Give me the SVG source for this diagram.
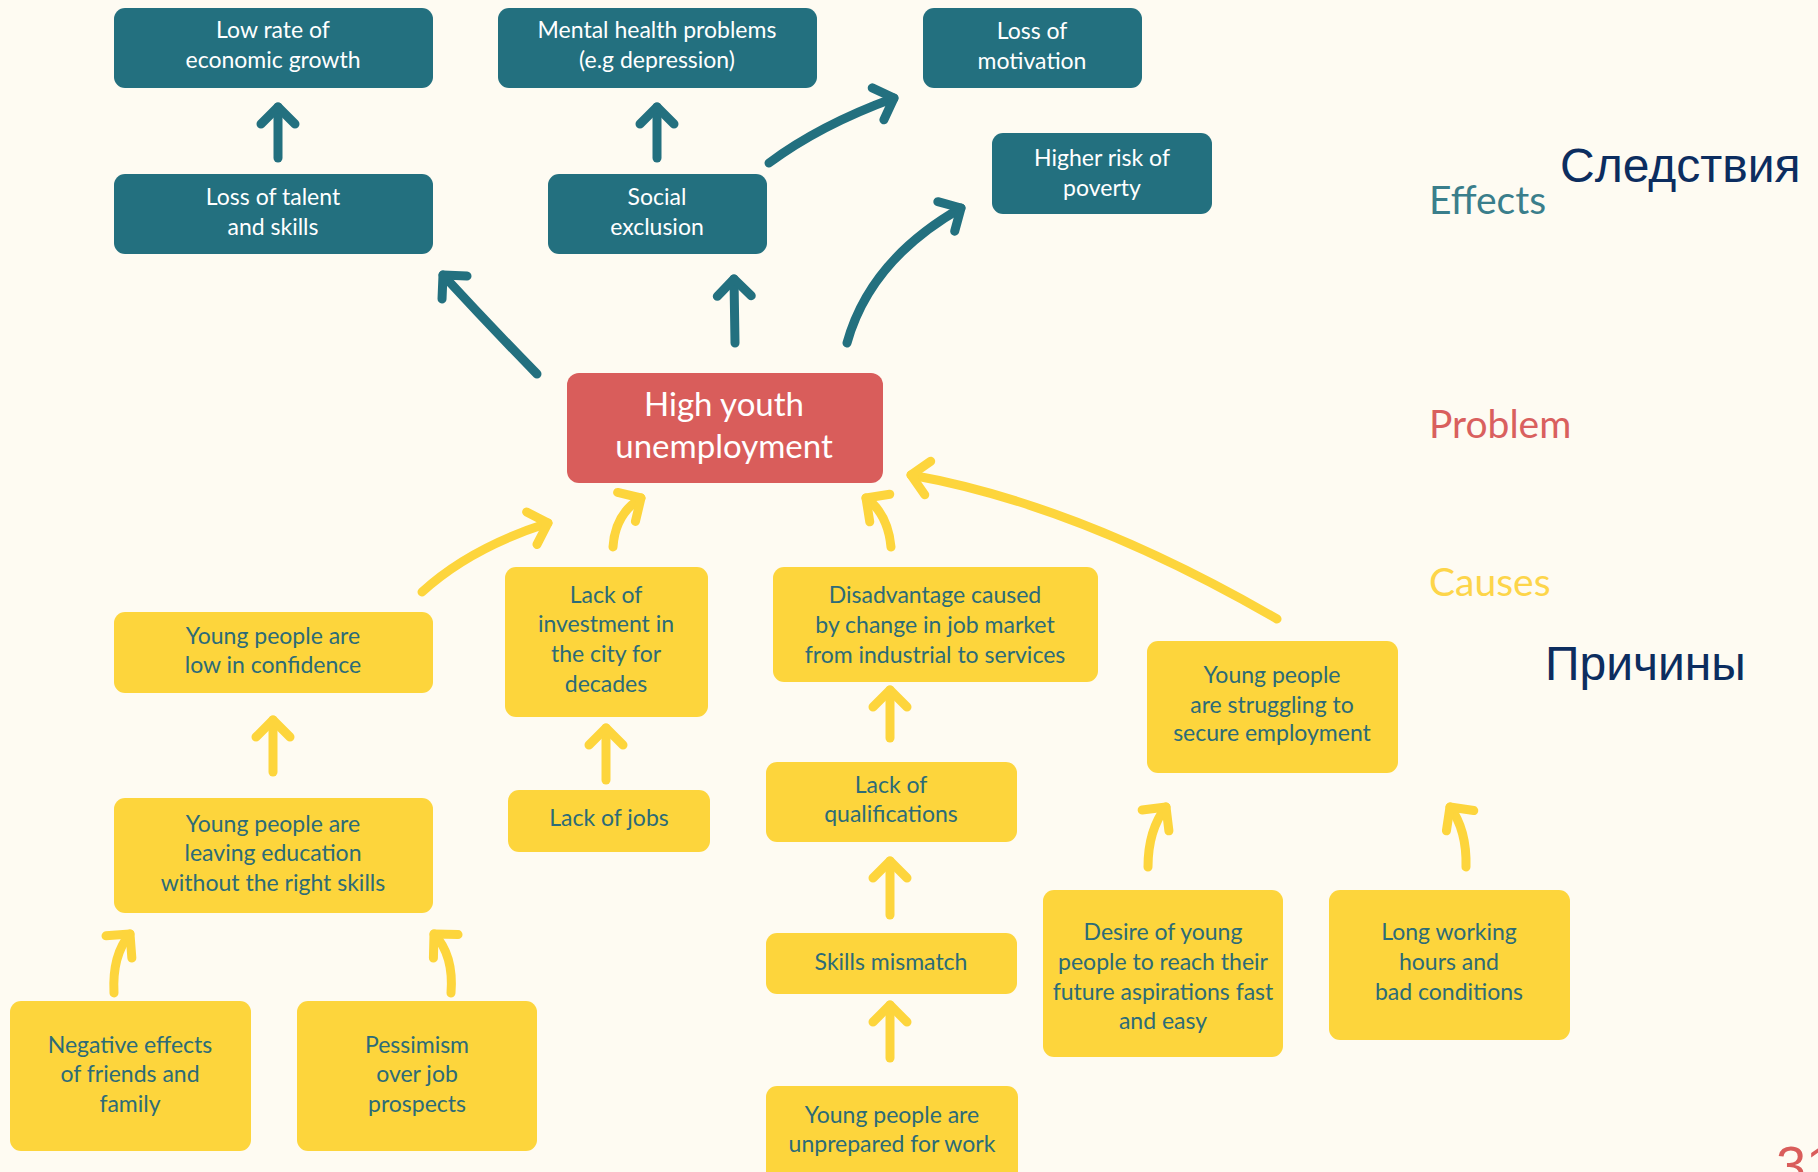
<svg xmlns="http://www.w3.org/2000/svg" width="1818" height="1172" viewBox="0 0 1818 1172">
  <style>
    .bg { fill: #fefbf2; }
    .eff rect { fill: #23707f; }
    .eff text { fill: #ffffff; }
    .cause rect { fill: #fdd53c; }
    .cause text { fill: #2c6b78; }
    .prob rect { fill: #d95d5b; }
    .prob text { fill: #ffffff; font-size: 33px; }
    text { font-family: "Lato", "Liberation Sans", sans-serif; font-size: 23px; text-anchor: middle; }
    .lbl { text-anchor: start; font-size: 39px; }
    .ru { font-family: "Liberation Sans", "Noto Sans", sans-serif; text-anchor: start; fill: #0c2d5f; font-size: 48px; }
    .t { fill: none; stroke: #23707f; stroke-width: 9; stroke-linecap: round; stroke-linejoin: round; }
    .y { fill: none; stroke: #fdd53c; stroke-width: 9; stroke-linecap: round; stroke-linejoin: round; }
    .tm { marker-end: url(#headT); }
    .ym { marker-end: url(#headY); }
  </style>
  <defs>
    <marker id="headT" viewBox="-30 -30 40 60" markerWidth="40" markerHeight="60" refX="0" refY="0" orient="auto" markerUnits="userSpaceOnUse">
      <path d="M-17,-17 L0,0 L-17,17" fill="none" stroke="#23707f" stroke-width="9" stroke-linecap="round" stroke-linejoin="round"/>
    </marker>
    <marker id="headY" viewBox="-30 -30 40 60" markerWidth="40" markerHeight="60" refX="0" refY="0" orient="auto" markerUnits="userSpaceOnUse">
      <path d="M-17,-17 L0,0 L-17,17" fill="none" stroke="#fdd53c" stroke-width="9" stroke-linecap="round" stroke-linejoin="round"/>
    </marker>
  </defs>

  <rect class="bg" x="0" y="0" width="1818" height="1172"/>

  <!-- connectors -->
  <g id="connectors">
    <!-- effects (teal) -->
    <path class="t tm" d="M537,374 Q490,326 443,275"/>
    <path class="t tm" d="M735,343 L734,279"/>
    <path class="t tm" d="M847,343 Q870,260 961,208"/>
    <path class="t tm" d="M769,163 Q820,125 894,98"/>
    <path class="t tm" d="M278,158 L278,107"/>
    <path class="t tm" d="M657,158 L657,107"/>
    <!-- causes (yellow) -->
    <path class="y ym" d="M422,592 Q470,548 548,523"/>
    <path class="y ym" d="M613,547 Q615,514 641,498"/>
    <path class="y ym" d="M891,547 Q888,514 866,498"/>
    <path class="y ym" d="M1277,619 Q1080,505 911,475"/>
    <path class="y ym" d="M273,772 L273,720"/>
    <path class="y ym" d="M606,780 L606,728"/>
    <path class="y ym" d="M890,738 L890,690"/>
    <path class="y ym" d="M890,915 L890,861"/>
    <path class="y ym" d="M890,1058 L890,1005"/>
    <path class="y ym" d="M114,993 Q112,955 130,934"/>
    <path class="y ym" d="M451,993 Q454,955 434,934"/>
    <path class="y ym" d="M1148,867 Q1148,830 1166,807"/>
    <path class="y ym" d="M1466,867 Q1467,830 1450,807"/>
  </g>

  <!-- effects -->
  <g id="low-growth" class="eff">
    <rect x="114" y="8" width="319" height="80" rx="11"/>
    <text x="273" y="38">Low rate of</text>
    <text x="273" y="68">economic growth</text>
  </g>
  <g id="mental-health" class="eff">
    <rect x="498" y="8" width="319" height="80" rx="11"/>
    <text x="657" y="38">Mental health problems</text>
    <text x="657" y="68">(e.g depression)</text>
  </g>
  <g id="loss-motivation" class="eff">
    <rect x="923" y="8" width="219" height="80" rx="11"/>
    <text x="1032" y="39">Loss of</text>
    <text x="1032" y="69">motivation</text>
  </g>
  <g id="loss-talent" class="eff">
    <rect x="114" y="174" width="319" height="80" rx="11"/>
    <text x="273" y="205">Loss of talent</text>
    <text x="273" y="235">and skills</text>
  </g>
  <g id="social-exclusion" class="eff">
    <rect x="548" y="174" width="219" height="80" rx="11"/>
    <text x="657" y="205">Social</text>
    <text x="657" y="235">exclusion</text>
  </g>
  <g id="poverty" class="eff">
    <rect x="992" y="133" width="220" height="81" rx="11"/>
    <text x="1102" y="166">Higher risk of</text>
    <text x="1102" y="196">poverty</text>
  </g>

  <!-- problem -->
  <g id="problem" class="prob">
    <rect x="567" y="373" width="316" height="110" rx="12"/>
    <text x="724" y="416">High youth</text>
    <text x="724" y="458">unemployment</text>
  </g>

  <!-- causes -->
  <g id="low-confidence" class="cause">
    <rect x="114" y="612" width="319" height="81" rx="11"/>
    <text x="273" y="644">Young people are</text>
    <text x="273" y="673">low in confidence</text>
  </g>
  <g id="lack-investment" class="cause">
    <rect x="505" y="567" width="203" height="150" rx="11"/>
    <text x="606" y="603">Lack of</text>
    <text x="606" y="632">investment in</text>
    <text x="606" y="662">the city for</text>
    <text x="606" y="692">decades</text>
  </g>
  <g id="job-market" class="cause">
    <rect x="773" y="567" width="325" height="115" rx="11"/>
    <text x="935" y="603">Disadvantage caused</text>
    <text x="935" y="633">by change in job market</text>
    <text x="935" y="663">from  industrial to services</text>
  </g>
  <g id="struggling" class="cause">
    <rect x="1147" y="641" width="251" height="132" rx="11"/>
    <text x="1272" y="683">Young people</text>
    <text x="1272" y="713">are struggling to</text>
    <text x="1272" y="741">secure employment</text>
  </g>
  <g id="leaving-education" class="cause">
    <rect x="114" y="798" width="319" height="115" rx="11"/>
    <text x="273" y="832">Young people are</text>
    <text x="273" y="861">leaving education</text>
    <text x="273" y="891">without the right skills</text>
  </g>
  <g id="lack-jobs" class="cause">
    <rect x="508" y="790" width="202" height="62" rx="11"/>
    <text x="609" y="826">Lack of jobs</text>
  </g>
  <g id="lack-qualifications" class="cause">
    <rect x="766" y="762" width="251" height="80" rx="11"/>
    <text x="891" y="793">Lack of</text>
    <text x="891" y="822">qualifications</text>
  </g>
  <g id="skills-mismatch" class="cause">
    <rect x="766" y="933" width="251" height="61" rx="11"/>
    <text x="891" y="970">Skills mismatch</text>
  </g>
  <g id="unprepared" class="cause">
    <rect x="766" y="1086" width="252" height="110" rx="11"/>
    <text x="892" y="1123">Young people are</text>
    <text x="892" y="1152">unprepared for work</text>
  </g>
  <g id="aspirations" class="cause">
    <rect x="1043" y="890" width="240" height="167" rx="11"/>
    <text x="1163" y="940">Desire of young</text>
    <text x="1163" y="970">people to reach their</text>
    <text x="1163" y="1000">future aspirations fast</text>
    <text x="1163" y="1029">and easy</text>
  </g>
  <g id="working-conditions" class="cause">
    <rect x="1329" y="890" width="241" height="150" rx="11"/>
    <text x="1449" y="940">Long working</text>
    <text x="1449" y="970">hours and</text>
    <text x="1449" y="1000">bad conditions</text>
  </g>
  <g id="friends-family" class="cause">
    <rect x="10" y="1001" width="241" height="150" rx="11"/>
    <text x="130" y="1053">Negative effects</text>
    <text x="130" y="1082">of friends and</text>
    <text x="130" y="1112">family</text>
  </g>
  <g id="pessimism" class="cause">
    <rect x="297" y="1001" width="240" height="150" rx="11"/>
    <text x="417" y="1053">Pessimism</text>
    <text x="417" y="1082">over job</text>
    <text x="417" y="1112">prospects</text>
  </g>

  <!-- level labels -->
  <g id="labels">
    <text class="lbl" x="1429" y="214" fill="#3a7e8b">Effects</text>
    <text class="ru" x="1560" y="182">Следствия</text>
    <text class="lbl" x="1429" y="438" fill="#d9605e">Problem</text>
    <text class="lbl" x="1429" y="596" fill="#fdd54a">Causes</text>
    <text class="ru" x="1545" y="680">Причины</text>
  </g>

  <!-- page number, cut by the edge -->
  <text x="1776" y="1184" style="text-anchor:start;font-family:'Liberation Sans',sans-serif;font-size:54px;fill:#d95d5b;">31</text>
</svg>
